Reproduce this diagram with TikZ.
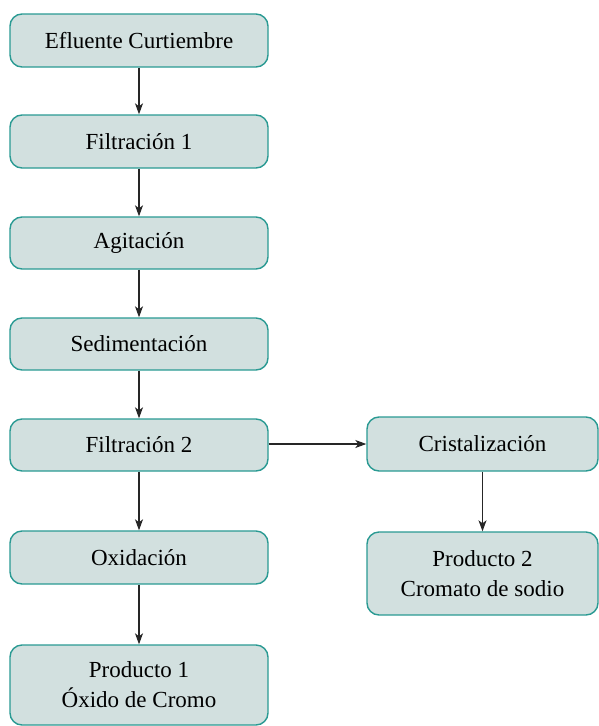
\documentclass[tikz,border=0pt]{standalone}
\usepackage{fontspec}
\setmainfont{Liberation Serif}
\usetikzlibrary{arrows.meta}
\definecolor{boxfill}{HTML}{D2E0DF}
\definecolor{boxline}{HTML}{2A9A93}
\tikzset{
  procbox/.style={draw=boxline, fill=boxfill, line width=1.4pt, rounded corners=12pt,
    inner sep=0pt, align=center, font=\fontsize{23}{30}\selectfont, minimum width=258pt},
  flow/.style={draw=black!85, line width=1.1pt, -{Stealth[length=11pt,width=8pt,inset=3pt]}}
}
\begin{document}
\begin{tikzpicture}[x=1pt,y=1pt]
\useasboundingbox (0,0) rectangle (599,-726);
\node[procbox, minimum height=53pt] (n1) at (139,-40.5) {Efluente Curtiembre};
\node[procbox, minimum height=53pt] (n2) at (139,-141.5) {Filtración 1};
\node[procbox, minimum height=52pt] (n3) at (139,-243) {Agitación};
\node[procbox, minimum height=52pt] (n4) at (139,-344) {Sedimentación};
\node[procbox, minimum height=52pt] (n5) at (139,-445) {Filtración 2};
\node[procbox, minimum height=53pt] (n6) at (139,-557.5) {Oxidación};
\node[procbox, minimum height=80pt] (n7) at (139,-685) {Producto 1\\Óxido de Cromo};
\node[procbox, minimum height=54pt, minimum width=231pt] (c1) at (482.5,-444) {Cristalización};
\node[procbox, minimum height=83pt, minimum width=231pt] (c2) at (482.5,-573.5) {Producto 2\\Cromato de sodio};
\draw[flow] (n1) -- (n2);
\draw[flow] (n2) -- (n3);
\draw[flow] (n3) -- (n4);
\draw[flow] (n4) -- (n5);
\draw[flow] (n5) -- (n6);
\draw[flow] (n6) -- (n7);
\draw[flow] (n5.east |- c1.west) -- (c1.west);
\draw[flow] (c1) -- (c2);
\end{tikzpicture}
\end{document}
